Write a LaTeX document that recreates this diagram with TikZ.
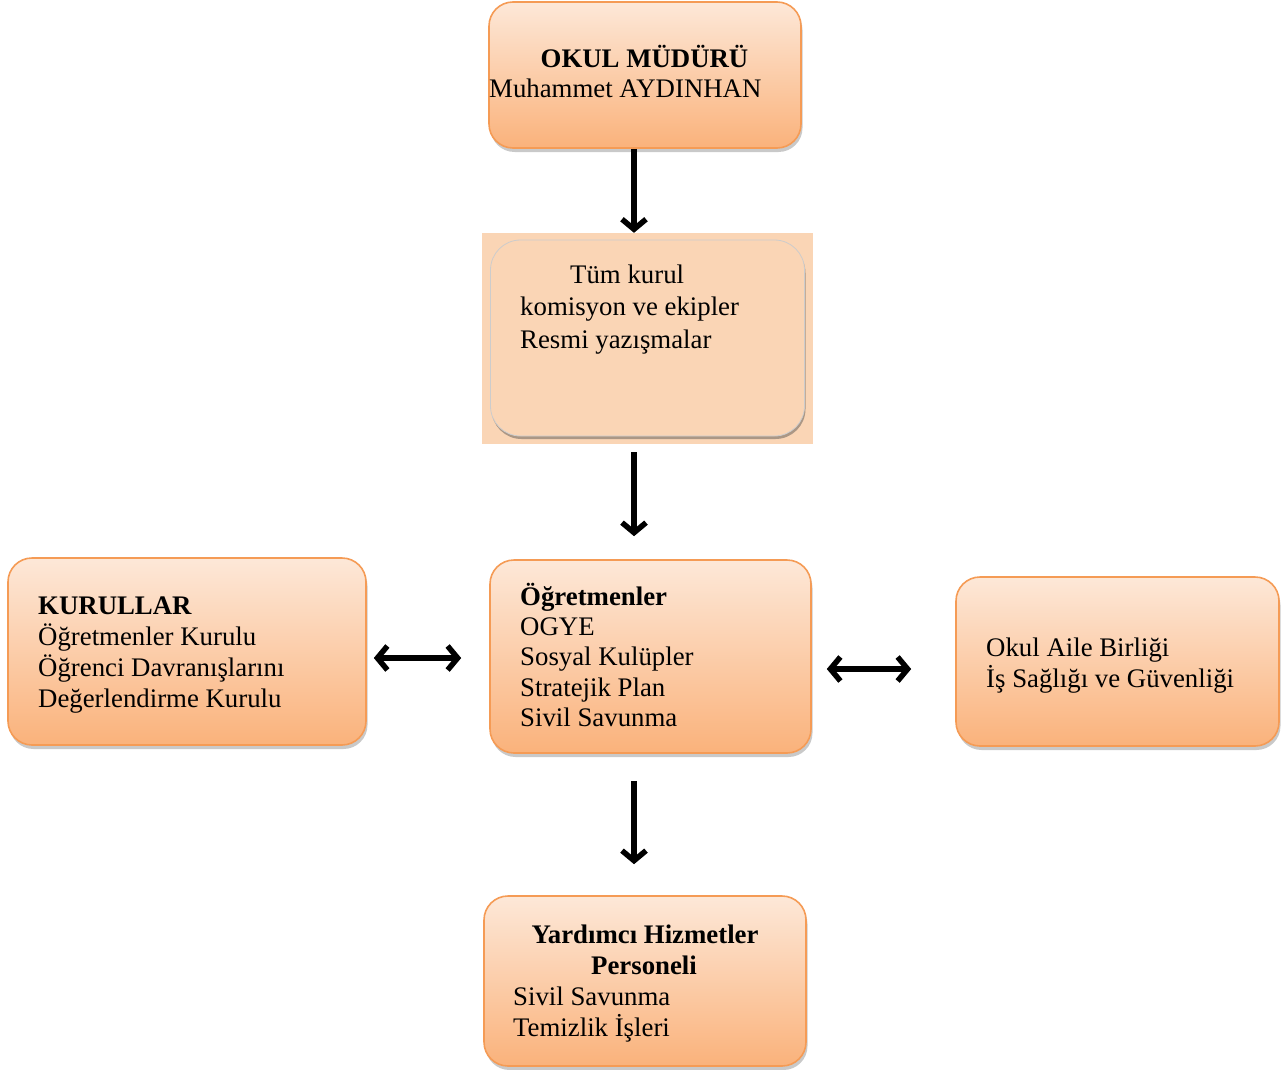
\documentclass[tikz,border=0pt]{standalone}
\usepackage{fontspec}
\setmainfont{Liberation Serif}
\usetikzlibrary{arrows.meta,shadows}
\definecolor{orgline}{HTML}{F59B55}
\definecolor{ltop}{HTML}{FDE8D8}
\definecolor{lbot}{HTML}{FAB27B}
\definecolor{peach}{HTML}{FAD5B5}
\begin{document}
\begin{tikzpicture}[x=1pt,y=-1pt,
  box/.style={draw=orgline, line width=1.6pt, rounded corners=24pt, top color=ltop, bottom color=lbot,
    drop shadow={shadow xshift=1.5pt, shadow yshift=-4pt, opacity=0.3, fill=black!70},
    inner sep=0pt},
  txt/.style={anchor=base west, inner sep=0pt, font=\fontsize{26.8}{31}\selectfont},
  btxt/.style={txt, font=\fontsize{26.8}{31}\selectfont\bfseries},
  arr/.style={line width=5.5pt, -{Straight Barb[length=10pt,width=24pt]}},
  darr/.style={line width=5.5pt, {Straight Barb[length=10pt,width=24pt]}-{Straight Barb[length=10pt,width=24pt]}}
]
\useasboundingbox (0,0) rectangle (1287,1070);
% boxes
\node[box, minimum width=312pt, minimum height=146pt] (b1) at (645,75) {};
\node[fill=peach, minimum width=331pt, minimum height=211pt, inner sep=0pt] (b2bg) at (647.5,338.5) {};
\node[fill=peach, draw=black!20, line width=0.8pt, rounded corners=30pt, minimum width=314pt, minimum height=196pt, inner sep=0pt,
  drop shadow={shadow xshift=1pt, shadow yshift=-3pt, opacity=0.45, fill=black!70}] (b2) at (647.5,338) {};
\node[box, minimum width=321pt, minimum height=193pt] (b3) at (650.5,656.5) {};
\node[box, minimum width=358pt, minimum height=187pt] (b4) at (187,651.5) {};
\node[box, minimum width=323pt, minimum height=169pt] (b5) at (1117.5,661.5) {};
\node[box, minimum width=322pt, minimum height=170pt] (b6) at (645,981) {};
% texts
\node[btxt, anchor=base] (t1a) at (644.5,68) {OKUL MÜDÜRÜ};
\node[txt] (t1b) at (489,98) {Muhammet AYDINHAN};
\node[txt] (t2a) at (570,283) {Tüm kurul};
\node[txt] (t2b) at (520,315) {komisyon ve ekipler};
\node[txt] (t2c) at (520,348) {Resmi yazışmalar};
\node[btxt] (t3a) at (520,605) {Öğretmenler};
\node[txt] (t3b) at (520,635) {OGYE};
\node[txt] (t3c) at (520,665) {Sosyal Kulüpler};
\node[txt] (t3d) at (520,696) {Stratejik Plan};
\node[txt] (t3e) at (520,726) {Sivil Savunma};
\node[btxt] (t4a) at (38,614) {KURULLAR};
\node[txt] (t4b) at (38,645) {Öğretmenler Kurulu};
\node[txt] (t4c) at (38,676) {Öğrenci Davranışlarını};
\node[txt] (t4d) at (38,707) {Değerlendirme Kurulu};
\node[txt] (t5a) at (986,656) {Okul Aile Birliği};
\node[txt] (t5b) at (986,687) {İş Sağlığı ve Güvenliği};
\node[btxt, anchor=base] (t6a) at (645,943) {Yardımcı Hizmetler};
\node[btxt, anchor=base] (t6b) at (644,974) {Personeli};
\node[txt] (t6c) at (513,1005) {Sivil Savunma};
\node[txt] (t6d) at (513,1036) {Temizlik İşleri};
% connectors
\draw[arr] ([xshift=-11pt]b1.south) -- ([xshift=-13.5pt]b2bg.north);
\draw[arr, shorten <=8pt, shorten >=23pt] ([xshift=-13.5pt]b2bg.south) -- ([xshift=-16.5pt]b3.north);
\draw[arr, shorten <=27pt, shorten >=31pt] ([xshift=-16.5pt]b3.south) -- ([xshift=-11pt]b6.north);
\draw[darr, shorten <=7pt, shorten >=28pt] ([yshift=-6.5pt]b4.east) -- ([yshift=-6.5pt]b4.east -| b3.west);
\draw[darr, shorten <=15pt, shorten >=44pt] ([yshift=-12.5pt]b3.east) -- ([yshift=-12.5pt]b3.east -| b5.west);
\end{tikzpicture}
\end{document}
